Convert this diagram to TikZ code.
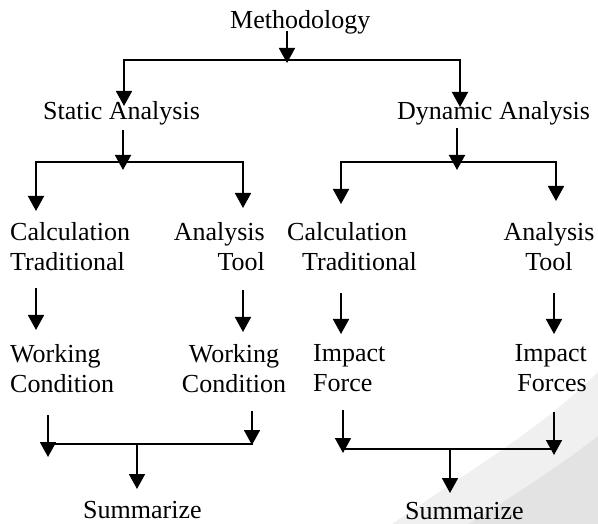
\documentclass[tikz,border=0pt]{standalone}
\usepackage{fontspec}
\setmainfont{Liberation Serif}
\usetikzlibrary{arrows.meta}

\begin{document}
\begin{tikzpicture}[x=1pt,y=-1pt,
    lbl/.style={inner sep=0pt, font=\fontsize{26}{30}\selectfont, execute at begin node=\strut},
    arr/.style={line width=1.8pt, -{Triangle[width=16pt,length=15pt]}},
    bus/.style={line width=1.8pt, line cap=rect}]
    \useasboundingbox (0,0) rectangle (598,524);
    % watermark in the corner
    \fill[gray!12] (392,524) .. controls (470,470) and (540,430) .. (598,372) -- (598,524) -- cycle;
    \fill[gray!22] (468,524) .. controls (520,492) and (565,462) .. (598,436) -- (598,524) -- cycle;

    \node[lbl, anchor=north west] (meth) at (230,7) {Methodology};
    \node[lbl, anchor=north west] (stat) at (43,98) {Static Analysis};
    \node[lbl, anchor=north west] (dyn) at (397,98) {Dynamic Analysis};
    \node[lbl, anchor=north west, align=left] (calcA) at (10,222) {Calculation\\Traditional};
    \node[lbl, anchor=north east, align=right] (toolA) at (265,222) {Analysis\\Tool};
    \node[lbl, anchor=north west, align=left] (calcB) at (287,222) {Calculation\\\hspace*{15pt}Traditional};
    \node[lbl, anchor=north, align=center] (toolB) at (549,222) {Analysis\\Tool};
    \node[lbl, anchor=north west, align=left] (workA) at (10,344) {Working\\Condition};
    \node[lbl, anchor=north, align=center] (workB) at (234,344) {Working\\Condition};
    \node[lbl, anchor=north west, align=left] (impA) at (313,344) {Impact\\Force};
    \node[lbl, anchor=north east, align=right] (impB) at (587,344) {Impact\\Forces};
    \node[lbl, anchor=north west] (sumA) at (83,497) {Summarize};
    \node[lbl, anchor=north west] (sumB) at (405,498) {Summarize};

    % junctions of the bars
    \coordinate (mJ) at (287,60);
    \coordinate (tL) at (124,60);
    \coordinate (tR) at (460,60);
    \coordinate (sJ) at (123,162);
    \coordinate (sL) at (36,162);
    \coordinate (sR) at (243,162);
    \coordinate (dJ) at (457,162);
    \coordinate (dL) at (341,162);
    \coordinate (dR) at (556,162);
    \coordinate (wL) at (48,444);
    \coordinate (wR) at (252,444);
    \coordinate (wJ) at (137,444);
    \coordinate (iL) at (343,449);
    \coordinate (iR) at (554,449);
    \coordinate (iJ) at (450,449);

    % top level
    \draw[arr, shorten <=-6pt, shorten >=-3pt] (meth.south -| mJ) -- (mJ);
    \draw[bus] (tL) -- (tR);
    \draw[arr, shorten >=-8pt] (tL) -- (tL |- stat.north);
    \draw[arr, shorten >=-9pt] (tR) -- (tR |- dyn.north);

    % second level
    \draw[arr, shorten <=2pt, shorten >=-8pt] (stat.south -| sJ) -- (sJ);
    \draw[arr, shorten >=-8pt] (dyn.south -| dJ) -- (dJ);
    \draw[bus] (sL) -- (sR);
    \draw[bus] (dL) -- (dR);
    \draw[arr, shorten >=11pt] (sL) -- (sL |- calcA.north);
    \draw[arr, shorten >=14pt] (sR) -- (sR |- toolA.north);
    \draw[arr, shorten >=18pt] (dL) -- (dL |- calcB.north);
    \draw[arr, shorten >=21pt] (dR) -- (dR |- toolB.north);

    % third level
    \draw[arr, shorten <=9pt, shorten >=14pt] (calcA.south -| sL) -- (sL |- workA.north);
    \draw[arr, shorten <=11pt, shorten >=12pt] (toolA.south -| sR) -- (sR |- workB.north);
    \draw[arr, shorten <=14pt, shorten >=10pt] (calcB.south -| dL) -- (dL |- impA.north);
    \draw[arr, shorten <=14pt, shorten >=10pt] (toolB.south -| iR) -- (iR |- impB.north);

    % summaries
    \draw[arr, shorten <=14pt, shorten >=-13pt] (workA.south -| wL) -- (wL);
    \draw[arr, shorten <=10pt, shorten >=-1pt] (workB.south -| wR) -- (wR);
    \draw[bus] (wL) -- (wR);
    \draw[arr, shorten >=8pt] (wJ) -- (wJ |- sumA.north);
    \draw[arr, shorten <=10pt, shorten >=-4pt] (impA.south -| iL) -- (iL);
    \draw[arr, shorten <=12pt, shorten >=-6pt] (impB.south -| iR) -- (iR);
    \draw[bus] (iL) -- (iR);
    \draw[arr, shorten >=5pt] (iJ) -- (iJ |- sumB.north);
\end{tikzpicture}
\end{document}
